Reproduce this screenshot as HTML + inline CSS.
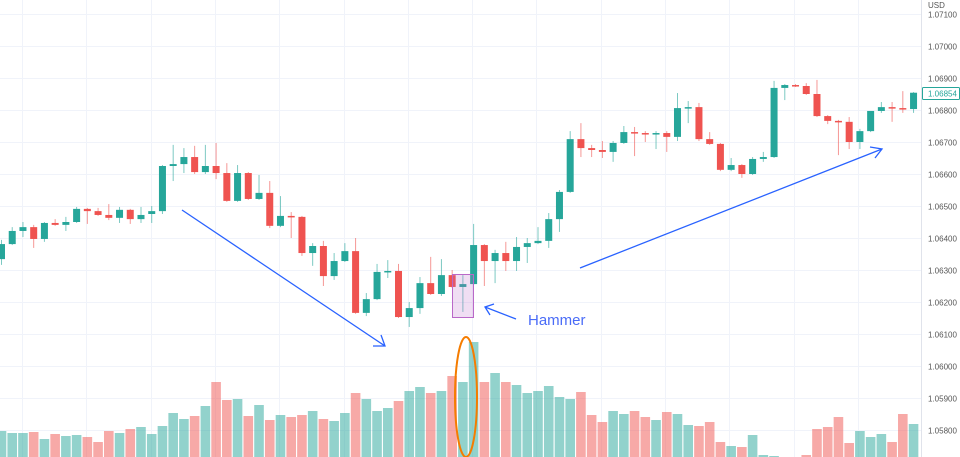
<!DOCTYPE html>
<html><head><meta charset="utf-8"><style>
html,body{margin:0;padding:0;background:#fff;}
svg{display:block;font-family:"Liberation Sans",sans-serif;}
</style></head><body>
<svg id="chart" width="960" height="457" viewBox="0 0 960 457">
<g id="grid"></g>
<g id="vol"></g>
<g id="candles"></g>
<line x1="921.5" y1="0" x2="921.5" y2="457" stroke="#e0e3eb"/>
<g id="axis"></g>
<text x="928" y="8" font-size="8" fill="#555">USD</text>
<g>
<rect x="922.5" y="87.5" width="37" height="12" fill="#fff" stroke="#26a69a" rx="1"/>
<text id="lastTxt" x="928" y="96.5" font-size="8" fill="#26a69a">1.06854</text>
</g>
<g stroke="#2962ff" stroke-width="1.3" fill="none">
<line x1="182" y1="210" x2="385" y2="346"/>
<polyline points="373,346 385,346 381,335"/>
</g>
<g stroke="#2962ff" stroke-width="1.3" fill="none">
<line x1="580" y1="268" x2="882" y2="149"/>
<polyline points="870,147 882,149 875,158"/>
</g>
<rect x="452.5" y="274.5" width="21" height="43" fill="rgba(186,104,200,0.22)" stroke="#ba68c8" stroke-width="1"/>
<g stroke="#2962ff" stroke-width="1.3" fill="none">
<line x1="516" y1="319" x2="485" y2="307"/>
<polyline points="490,315 485,307 494,304"/>
</g>
<text x="528" y="325" font-size="15" fill="#4a6cf7">Hammer</text>
<ellipse cx="466" cy="397" rx="11" ry="60" fill="none" stroke="#f57c00" stroke-width="2"/>
</svg>
<script>
const opens=[1.06334,1.06381,1.06422,1.06434,1.06397,1.06447,1.06441,1.06450,1.06491,1.06484,1.06472,1.06463,1.06488,1.06459,1.06475,1.06484,1.06625,1.06631,1.06653,1.06606,1.06625,1.06603,1.06516,1.06603,1.06522,1.06541,1.06438,1.06469,1.06466,1.06353,1.06375,1.06281,1.06328,1.06359,1.06166,1.06209,1.06294,1.06297,1.06153,1.06181,1.06259,1.06225,1.06284,1.06247,1.06256,1.06378,1.06328,1.06353,1.06328,1.06372,1.06384,1.06391,1.06459,1.06544,1.06709,1.06681,1.06675,1.06669,1.06697,1.06731,1.06728,1.06725,1.06728,1.06716,1.06806,1.06809,1.06709,1.06694,1.06613,1.06628,1.06600,1.06647,1.06653,1.06869,1.06878,1.06875,1.06850,1.06781,1.06766,1.06763,1.06700,1.06734,1.06797,1.06809,1.06806,1.06803];
const highs=[1.06394,1.06434,1.06450,1.06441,1.06450,1.06459,1.06466,1.06497,1.06494,1.06494,1.06506,1.06497,1.06491,1.06497,1.06500,1.06628,1.06691,1.06681,1.06688,1.06691,1.06697,1.06634,1.06628,1.06606,1.06597,1.06578,1.06531,1.06481,1.06469,1.06384,1.06391,1.06353,1.06384,1.06400,1.06228,1.06319,1.06331,1.06319,1.06200,1.06278,1.06341,1.06334,1.06300,1.06284,1.06444,1.06381,1.06363,1.06388,1.06403,1.06400,1.06434,1.06478,1.06550,1.06734,1.06759,1.06691,1.06703,1.06703,1.06750,1.06747,1.06734,1.06734,1.06734,1.06853,1.06828,1.06822,1.06731,1.06697,1.06650,1.06631,1.06653,1.06669,1.06891,1.06881,1.06881,1.06884,1.06894,1.06784,1.06769,1.06778,1.06741,1.06763,1.06825,1.06825,1.06859,1.06856];
const lows=[1.06316,1.06378,1.06403,1.06369,1.06388,1.06438,1.06422,1.06447,1.06444,1.06469,1.06456,1.06447,1.06444,1.06447,1.06447,1.06475,1.06578,1.06603,1.06600,1.06600,1.06584,1.06513,1.06513,1.06519,1.06519,1.06431,1.06434,1.06400,1.06344,1.06313,1.06250,1.06269,1.06325,1.06163,1.06156,1.06206,1.06275,1.06150,1.06122,1.06163,1.06222,1.06219,1.06244,1.06169,1.06253,1.06250,1.06259,1.06297,1.06297,1.06322,1.06381,1.06369,1.06419,1.06541,1.06653,1.06653,1.06650,1.06638,1.06694,1.06656,1.06700,1.06678,1.06669,1.06703,1.06759,1.06703,1.06691,1.06609,1.06609,1.06588,1.06597,1.06638,1.06650,1.06831,1.06872,1.06847,1.06778,1.06756,1.06659,1.06678,1.06678,1.06731,1.06791,1.06763,1.06791,1.06791];
const closes=[1.06381,1.06422,1.06434,1.06397,1.06447,1.06441,1.06450,1.06491,1.06484,1.06472,1.06463,1.06488,1.06459,1.06472,1.06484,1.06625,1.06631,1.06653,1.06606,1.06625,1.06603,1.06516,1.06603,1.06522,1.06541,1.06438,1.06469,1.06466,1.06353,1.06375,1.06281,1.06328,1.06359,1.06166,1.06209,1.06294,1.06297,1.06153,1.06181,1.06259,1.06225,1.06284,1.06247,1.06256,1.06378,1.06328,1.06353,1.06328,1.06372,1.06384,1.06391,1.06459,1.06544,1.06709,1.06681,1.06675,1.06669,1.06697,1.06731,1.06728,1.06725,1.06728,1.06716,1.06806,1.06809,1.06709,1.06694,1.06613,1.06628,1.06600,1.06647,1.06653,1.06869,1.06878,1.06875,1.06850,1.06781,1.06766,1.06763,1.06700,1.06734,1.06797,1.06809,1.06806,1.06803,1.06854];
const volumes=[26,24,24,25,18,23,21,22,20,15,26,24,28,30,23,31,44,38,41,51,75,57,58,41,52,37,42,40,42,46,38,36,44,64,58,46,49,56,66,70,64,66,81,75,115,75,84,75,72,64,66,71,60,58,65,42,35,46,43,46,40,37,45,43,32,31,35,15,11,10,22,2,1,0,0,2,28,30,40,14,26,20,23,15,43,33];
const priceTicks=["1.07100","1.07000","1.06900","1.06800","1.06700","1.06600","1.06500","1.06400","1.06300","1.06200","1.06100","1.06000","1.05900","1.05800"];

const NS="http://www.w3.org/2000/svg";
const X0=1.5, STEP=10.73, BW=7;
const xAt=i=>X0+i*STEP;
const yAt=p=>78+(1.069-p)*32000;
const volMax=115, volPx=115;
const vY=v=>457-v/volMax*volPx;
function mk(tag,attrs,parent){const e=document.createElementNS(NS,tag);for(const k in attrs)e.setAttribute(k,attrs[k]);parent.appendChild(e);return e;}
const grid=document.getElementById('grid'),axis=document.getElementById('axis');
priceTicks.forEach((t,i)=>{
  const y=Math.round(yAt(parseFloat(t)))+0.5;
  const gl=mk('line',{x1:0,x2:921,y1:y,y2:y,stroke:'#f0f3fa'},grid);
  
  
  const tx=mk('text',{x:928,y:y+3,'font-size':8,fill:'#555'},axis);
  tx.textContent=t;
  
  
});
for(let gx=22;gx<921;gx+=64.3){
  const vl=mk('line',{x1:Math.round(gx)+0.5,x2:Math.round(gx)+0.5,y1:0,y2:457,stroke:'#f0f3fa'},grid);
  
  
}
const vg=document.getElementById('vol'),cg=document.getElementById('candles');
volumes.forEach((v,i)=>{
  const up=closes[i]>=opens[i];
  const y=vY(v);
  const r=mk('rect',{x:xAt(i)-4.8,y:y,width:9.6,height:457-y,fill:up?'rgba(38,166,154,0.5)':'rgba(239,83,80,0.5)'},vg);
  
  
});
opens.forEach((o,i)=>{
  const c=closes[i],up=c>=o,col=up?'#26a69a':'#ef5350';
  const g=mk('g',{},cg);
  
  
  const x=xAt(i);
  mk('line',{x1:x,x2:x,y1:yAt(highs[i]),y2:yAt(lows[i]),stroke:col,'stroke-width':1,opacity:0.6},g);
  const yt=yAt(Math.max(o,c)),yb=yAt(Math.min(o,c));
  mk('rect',{x:x-BW/2,y:yt,width:BW,height:Math.max(1.5,yb-yt),fill:col},g);
});
</script>
</body></html>
